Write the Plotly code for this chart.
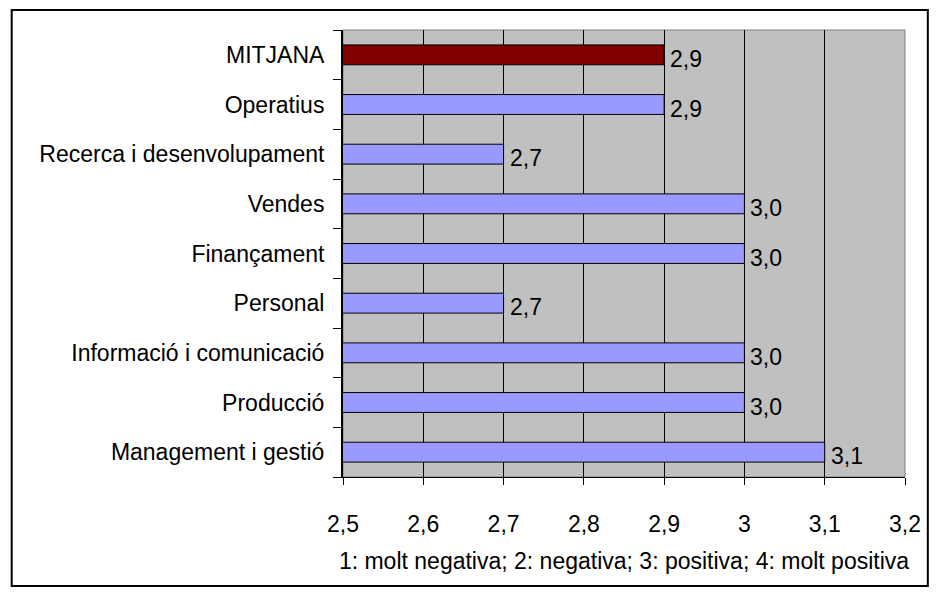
import plotly.graph_objects as go

# categories listed bottom to top
categories = ['Management i gestió', 'Producció', 'Informació i comunicació', 'Personal',
              'Finançament', 'Vendes', 'Recerca i desenvolupament', 'Operatius', 'MITJANA']
values = [3.1, 3.0, 3.0, 2.7, 3.0, 3.0, 2.7, 2.9, 2.9]
axis_note = '1: molt negativa; 2: negativa; 3: positiva; 4: molt positiva'

colors = ['#800000' if c == 'MITJANA' else '#9999FF' for c in categories]
labels = [f'{v:.1f}'.replace('.', ',') for v in values]

fig = go.Figure()
fig.add_trace(go.Bar(
    x=values, y=categories, orientation='h', base=0,
    marker=dict(color=colors, line=dict(color='black', width=1)),
    hoverinfo='x+y',
))

# value labels just right of each bar end
for cat, val, lab in zip(categories, values, labels):
    fig.add_annotation(x=val, y=cat, text=lab, showarrow=False, xanchor='left',
                       xshift=4, yshift=-4, font=dict(size=23, color='black'))

# plot area frame and outer chart border
fig.add_shape(type='rect', xref='paper', yref='paper', x0=0, x1=1, y0=0, y1=1,
              line=dict(color='#808080', width=1), layer='below')
fig.add_shape(type='rect', xref='paper', yref='paper', x0=-0.5895, x1=1.0406, y0=-0.2438, y1=1.0445,
              line=dict(color='black', width=2))

# page body adds an 8px margin, so the figure is sized to fit the window
fig.update_layout(
    width=925, height=580,
    margin=dict(l=335, r=20, t=22, b=111),
    paper_bgcolor='white', plot_bgcolor='#C0C0C0',
    font=dict(family='Liberation Sans, Arial', size=23, color='black'),
    separators=', ',
    bargap=0.6, showlegend=False,
    xaxis=dict(range=[2.5, 3.2], dtick=0.1, tick0=2.5, showgrid=True, gridcolor='black', gridwidth=1,
               showline=True, linecolor='black', linewidth=1, ticks='outside', ticklen=7,
               tickcolor='black', zeroline=False, ticklabelstandoff=19,
               title=dict(text=axis_note, standoff=17, font=dict(size=23))),
    yaxis=dict(type='category', showgrid=False, showline=True, linecolor='black', linewidth=2,
               ticks='outside', ticklen=8, tickcolor='black', tickson='boundaries',
               ticklabelstandoff=12),
)

fig.write_html('out.html')
